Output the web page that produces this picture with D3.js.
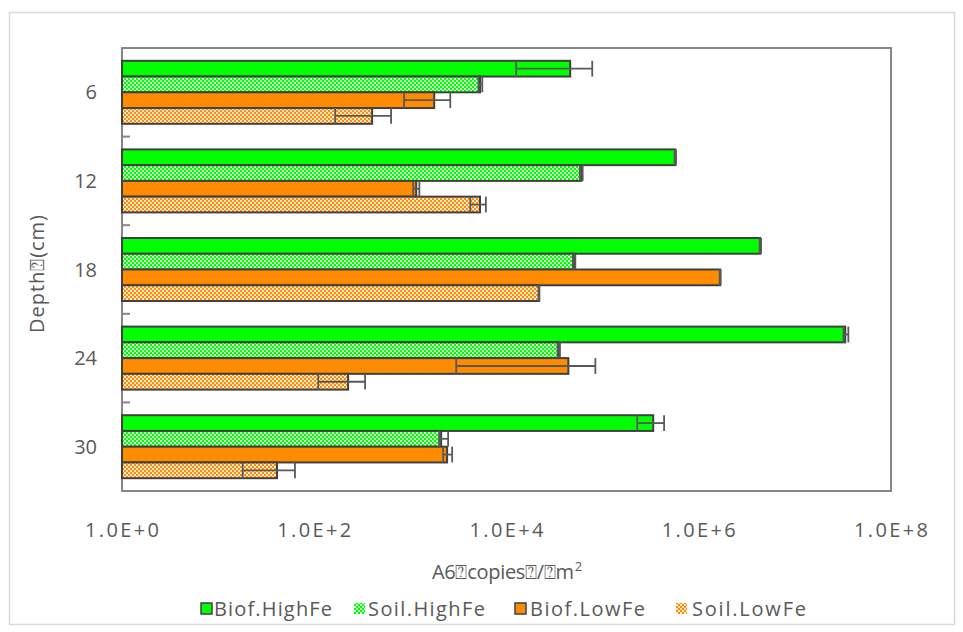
<!DOCTYPE html>
<html>
<head>
<meta charset="utf-8">
<script src="https://cdn.jsdelivr.net/npm/d3@7"></script>
<style>
  html, body { margin: 0; padding: 0; background: #fff; }
  text { font-family: "Open Sans", "Noto Sans", sans-serif; fill: #595959; }
</style>
</head>
<body>
<svg id="chart" width="963" height="632"></svg>
<script>
// Depth categories (top to bottom)
const depths = ["6", "12", "18", "24", "30"];
// Series, drawn top to bottom within each depth group
const seriesNames = ["Biof.HighFe", "Soil.HighFe", "Biof.LowFe", "Soil.LowFe"];

// Gene copies per series, one value per depth
const biofHighFe = [4.6e4, 5.7e5, 4.35e6, 3.34e7, 3.36e5];
const soilHighFe = [5.3e3, 6.0e4, 5.05e4, 3.5e4, 2.09e3];
const biofLowFe  = [1.77e3, 1.15e3, 1.67e6, 4.4e4, 2.41e3];
const soilLowFe  = [400, 5.3e3, 2.18e4, 225, 41];

// Error bar extents (low / high) per series and depth
const biofHighFeLow  = [1.26e4, 5.6e5, 4.3e6, 3.2e7, 2.29e5];
const biofHighFeHigh = [7.8e4, 5.8e5, 4.45e6, 3.6e7, 4.36e5];
const soilHighFeLow  = [5.1e3, 5.8e4, 4.9e4, 3.4e4, 1.99e3];
const soilHighFeHigh = [5.6e3, 6.2e4, 5.2e4, 3.6e4, 2.47e3];
const biofLowFeLow   = [860, 1.07e3, 1.65e6, 3.0e3, 2.19e3];
const biofLowFeHigh  = [2.6e3, 1.24e3, 1.69e6, 8.4e4, 2.72e3];
const soilLowFeLow   = [165, 4.2e3, 2.15e4, 110, 18];
const soilLowFeHigh  = [630, 6.1e3, 2.2e4, 338, 63];

// Axis ticks
const xTickValues = [1, 1e2, 1e4, 1e6, 1e8];
const xTickLabels = ["1.0E+0", "1.0E+2", "1.0E+4", "1.0E+6", "1.0E+8"];

const values = [biofHighFe, soilHighFe, biofLowFe, soilLowFe];
const lows = [biofHighFeLow, soilHighFeLow, biofLowFeLow, soilLowFeLow];
const highs = [biofHighFeHigh, soilHighFeHigh, biofLowFeHigh, soilLowFeHigh];

const svg = d3.select("#chart");

// Checkerboard fills for the soil series
const defs = svg.append("defs");
function checker(id, color) {
  const p = defs.append("pattern")
    .attr("id", id)
    .attr("patternUnits", "userSpaceOnUse")
    .attr("width", 4).attr("height", 4);
  p.append("rect").attr("width", 4).attr("height", 4).attr("fill", color);
  p.append("rect").attr("x", 0).attr("y", 0).attr("width", 2).attr("height", 2).attr("fill", "#ffffff").attr("opacity", 0.8);
  p.append("rect").attr("x", 2).attr("y", 2).attr("width", 2).attr("height", 2).attr("fill", "#ffffff").attr("opacity", 0.8);
}
checker("checkGreen", "#00ff00");
checker("checkOrange", "#ff8c00");

const fillFor = {
  "Biof.HighFe": "#00ff00",
  "Soil.HighFe": "url(#checkGreen)",
  "Biof.LowFe": "#ff8c00",
  "Soil.LowFe": "url(#checkOrange)"
};

// Outer chart frame
svg.append("rect")
  .attr("x", 9.5).attr("y", 12.5)
  .attr("width", 945).attr("height", 612)
  .attr("fill", "#fff")
  .attr("stroke", "#d9d9d9").attr("stroke-width", 1.5);

const plot = { left: 122, right: 891, top: 48, bottom: 491 };

const x = d3.scaleLog().domain([1, 1e8]).range([plot.left, plot.right]);
const y = d3.scaleBand().domain(depths).range([plot.top, plot.bottom]).paddingInner(0).paddingOuter(0);
const ys = d3.scaleBand().domain(seriesNames).range([0, y.bandwidth()]).paddingInner(0).paddingOuter(0.8125);

// Plot area border
svg.append("rect")
  .attr("x", plot.left).attr("y", plot.top)
  .attr("width", plot.right - plot.left).attr("height", plot.bottom - plot.top)
  .attr("fill", "none")
  .attr("stroke", "#868686").attr("stroke-width", 2);

// Category tick marks (inside, at group boundaries)
const boundaries = depths.slice(1).map(d => y(d));
svg.append("g").selectAll("line").data(boundaries).join("line")
  .attr("x1", plot.left).attr("x2", plot.left + 8)
  .attr("y1", d => d).attr("y2", d => d)
  .attr("stroke", "#868686").attr("stroke-width", 2);

// Bars
const barData = [];
depths.forEach((d, i) => {
  seriesNames.forEach((s, j) => {
    barData.push({ depth: d, series: s, value: values[j][i], lo: lows[j][i], hi: highs[j][i] });
  });
});

svg.append("g").selectAll("rect").data(barData).join("rect")
  .attr("x", x(1))
  .attr("y", d => y(d.depth) + ys(d.series))
  .attr("width", d => x(d.value) - x(1))
  .attr("height", ys.bandwidth())
  .attr("fill", d => fillFor[d.series])
  .attr("stroke", "#404040")
  .attr("stroke-width", 2);

// Error bars
const gErr = svg.append("g").attr("stroke", "#595959").attr("stroke-width", 1.8);
barData.forEach(d => {
  const cy = y(d.depth) + ys(d.series) + ys.bandwidth() / 2;
  const h = ys.bandwidth() / 2;
  gErr.append("line").attr("x1", x(d.lo)).attr("x2", x(d.hi)).attr("y1", cy).attr("y2", cy);
  gErr.append("line").attr("x1", x(d.lo)).attr("x2", x(d.lo)).attr("y1", cy - h).attr("y2", cy + h);
  gErr.append("line").attr("x1", x(d.hi)).attr("x2", x(d.hi)).attr("y1", cy - h).attr("y2", cy + h);
});

// X tick labels
svg.append("g").selectAll("text").data(xTickValues).join("text")
  .attr("x", d => x(d))
  .attr("y", 537)
  .attr("text-anchor", "middle")
  .attr("font-size", 20)
  .attr("textLength", 74)
  .attr("lengthAdjust", "spacing")
  .text((d, i) => xTickLabels[i]);

// Category labels
svg.append("g").selectAll("text").data(depths).join("text")
  .attr("x", 97)
  .attr("y", d => y(d) + y.bandwidth() / 2 + 7)
  .attr("text-anchor", "end")
  .attr("font-size", 20)
  .text(d => d);

// Axis titles
svg.append("text")
  .attr("transform", "translate(44,274) rotate(-90)")
  .attr("text-anchor", "middle")
  .attr("font-size", 20)
  .attr("textLength", 118)
  .attr("lengthAdjust", "spacing")
  .text("Depth\u2370(cm)");

const xTitle = svg.append("text")
  .attr("x", 432).attr("y", 579)
  .attr("font-size", 20);
xTitle.append("tspan").attr("textLength", 142).attr("lengthAdjust", "spacing")
  .text("A6\u2370copies\u2370/\u2370m");
xTitle.append("tspan").attr("font-size", 13).attr("dy", -8).attr("dx", 1).text("2");

// Legend
const legendItems = [
  { name: "Biof.HighFe", sx: 201, tx: 214, w: 118 },
  { name: "Soil.HighFe", sx: 354, tx: 368, w: 117 },
  { name: "Biof.LowFe", sx: 515, tx: 530, w: 115 },
  { name: "Soil.LowFe", sx: 676, tx: 692, w: 114 }
];
const gLeg = svg.append("g");
legendItems.forEach(it => {
  gLeg.append("rect")
    .attr("x", it.sx).attr("y", 603)
    .attr("width", 11).attr("height", 11)
    .attr("fill", fillFor[it.name])
    .attr("stroke", it.name.startsWith("Biof") ? "#404040" : "none")
    .attr("stroke-width", 1.5);
  gLeg.append("text")
    .attr("x", it.tx).attr("y", 616)
    .attr("font-size", 20)
    .attr("textLength", it.w)
    .attr("lengthAdjust", "spacing")
    .text(it.name);
});
</script>
</body>
</html>
